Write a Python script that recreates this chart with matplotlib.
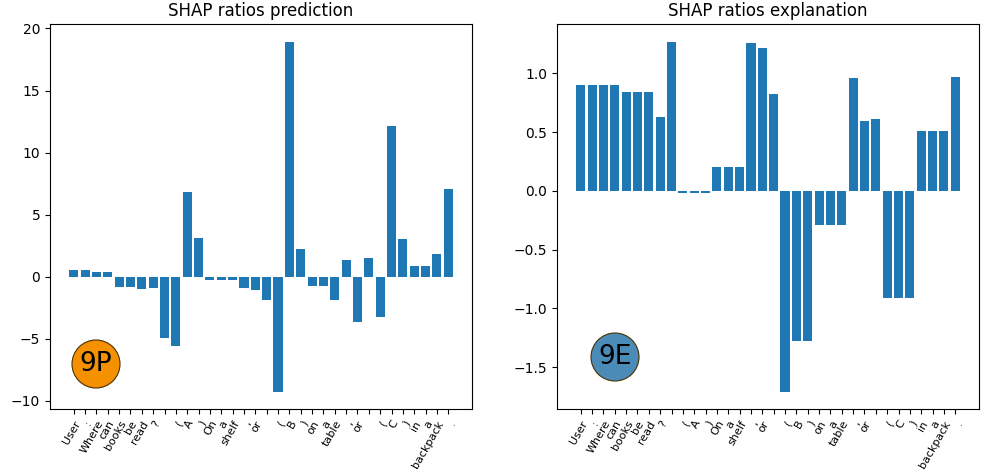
import matplotlib
matplotlib.use("Agg")
import matplotlib.pyplot as plt
from matplotlib.patches import Circle

# tokens of the prompt (empty ones are line breaks)
tokens = [
    "User", ":", "Where", "can", "books", "be", "read", "?", "",
    "(", "A", ")", "On", "a", "shelf", ",", "or", "",
    "(", "B", ")", "on", "a", "table", ",", "or", "",
    "(", "C", ")", "in", "a", "backpack", ".",
]

ratios_prediction = [
    0.56, 0.56, 0.40, 0.40, -0.82, -0.82, -0.97, -0.90, -4.90,
    -5.55, 6.80, 3.15, -0.30, -0.30, -0.30, -0.90, -1.05, -1.90,
    -9.25, 18.95, 2.26, -0.73, -0.73, -1.85, 1.37, -3.63, 1.53,
    -3.23, 12.18, 3.06, 0.89, 0.89, 1.85, 7.10,
]

ratios_explanation = [
    0.904, 0.904, 0.904, 0.904, 0.845, 0.845, 0.845, 0.631, 1.271,
    -0.017, -0.017, -0.017, 0.205, 0.205, 0.205, 1.254, 1.212, 0.828,
    -1.707, -1.280, -1.280, -0.290, -0.290, -0.290, 0.964, 0.597, 0.614,
    -0.913, -0.913, -0.913, 0.512, 0.512, 0.512, 0.973,
]

titles = ["SHAP ratios prediction", "SHAP ratios explanation"]
badges = [("9P", "#f59100", (96, 364)), ("9E", "#4a8bb8", (615, 357))]

fig, axes = plt.subplots(1, 2, figsize=(9.89, 4.71), dpi=100)
fig.subplots_adjust(left=50 / 989, right=979 / 989, bottom=62 / 471,
                    top=447 / 471, wspace=85 / 422)

positions = list(range(len(tokens)))
for ax, values, title in zip(axes, [ratios_prediction, ratios_explanation], titles):
    ax.bar(positions, values, color="#1f77b4")
    ax.set_xticks(positions)
    ax.set_xticklabels(tokens, rotation=60, ha="right", rotation_mode="anchor",
                       fontsize=8)
    ax.set_title(title)

# round badges, placed in pixels so they stay circular
for label, color, (px, py) in badges:
    cx, cy = px / 100, (471 - py) / 100
    circ = Circle((cx, cy), 0.24, transform=fig.dpi_scale_trans,
                  facecolor=color, edgecolor="#4a3000", linewidth=0.8)
    fig.add_artist(circ)
    fig.text(cx, cy, label, transform=fig.dpi_scale_trans, ha="center",
             va="center", fontsize=19, color="black")

fig.savefig("out.png", dpi=100)
